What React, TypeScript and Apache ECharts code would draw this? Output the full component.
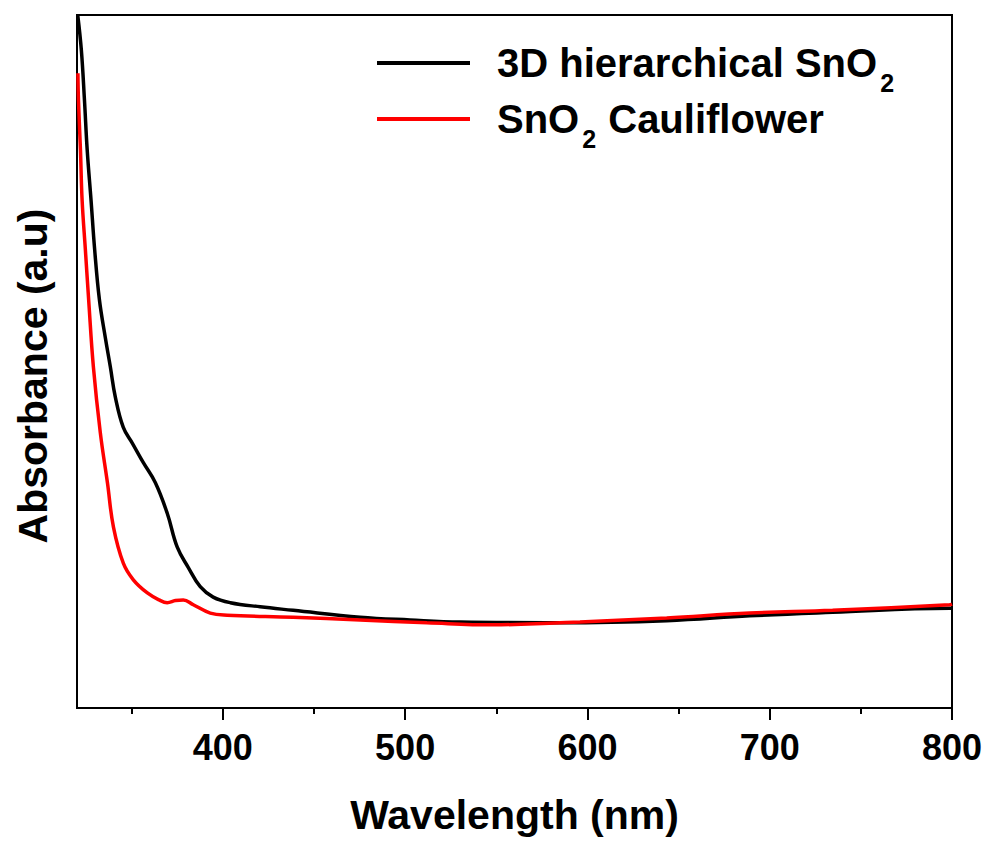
import React, { useEffect, useRef } from "react";
import * as echarts from "echarts";

// x-axis ticks (nm)
const majorTicks = [400, 500, 600, 700, 800];
const minorTicks = [350, 450, 550, 650, 750];

const seriesNames = ["3D hierarchical SnO2", "SnO2 Cauliflower"];
const legendLabels = ["{m|3D hierarchical SnO}{s|2}", "{m|SnO}{s|2}{m| Cauliflower}"];
const seriesColors = ["#000000", "#ff0000"];

// [wavelength nm, absorbance a.u.]
const hierarchicalSnO2: [number, number][] = [
  [320.4, 100], [322.4, 94.9], [324.1, 87.7], [325.6, 80.5], [327.7, 73.3],
  [329.7, 66.1], [332.3, 58.9], [335.5, 53.5], [338.3, 49.2], [341.0, 44.9],
  [345.4, 40.5], [350.4, 38.2], [356.4, 35.4], [363.0, 32.5], [369.5, 28.1],
  [375.0, 23.2], [381.0, 20.3], [387.6, 17.5], [394.7, 16.0], [404.1, 15.2],
  [420.5, 14.6], [438.6, 14.1], [475.3, 13.1], [502.7, 12.7], [530.1, 12.4],
  [584.9, 12.3], [643.5, 12.6], [689.0, 13.3], [734.5, 13.8], [798.6, 14.4],
  [800.0, 14.4],
];

const cauliflowerSnO2: [number, number][] = [
  [320.5, 91.6], [320.8, 87.7], [321.9, 80.5], [322.8, 73.3], [324.6, 66.1],
  [326.4, 58.9], [329.0, 49.2], [332.8, 39.7], [336.7, 32.5], [340.0, 26.1],
  [345.4, 20.9], [350.9, 18.5], [358.6, 16.6], [365.0, 15.6], [369.5, 15.2],
  [374.0, 15.5], [378.3, 15.6], [383.8, 14.9], [393.1, 13.7], [402.4, 13.4],
  [438.6, 13.1], [475.3, 12.7], [512.0, 12.3], [548.2, 12.0], [584.9, 12.3],
  [595.9, 12.4], [643.5, 13.0], [689.0, 13.7], [734.5, 14.1], [798.6, 14.9],
  [800.0, 15.0],
];

const FONT = "Arial, 'Liberation Sans', Helvetica, sans-serif";

export default function App() {
  const ref = useRef<HTMLDivElement>(null);
  useEffect(() => {
    if (!ref.current) return;
    const chart = echarts.init(ref.current, null, { renderer: "svg" });
    const P = 20;
    const L = 42;
    const option: any = {
      animation: false,
      backgroundColor: "#ffffff",
      grid: {
        left: 77,
        right: 39,
        top: 15,
        bottom: 136,
        show: true,
        borderColor: "#000",
        borderWidth: 2,
        backgroundColor: "transparent",
      },
      legend: {
        orient: "vertical",
        left: 377,
        top: 43,
        padding: 0,
        itemGap: -4,
        itemWidth: 93,
        itemHeight: 4,
        icon: "rect",
        data: seriesNames,
        formatter: (name: string) => legendLabels[seriesNames.indexOf(name)],
        textStyle: {
          padding: [P, 0, 0, 22],
          rich: {
            m: {
              fontSize: 40,
              fontWeight: "bold",
              fontFamily: FONT,
              color: "#000",
              lineHeight: L,
              padding: [0, 0, P, 0],
            },
            s: {
              fontSize: 25,
              fontWeight: "bold",
              fontFamily: FONT,
              color: "#000",
              lineHeight: L,
              padding: [P, 1, 0, 3],
            },
          },
        },
      },
      xAxis: [
        {
          type: "value",
          min: 320,
          max: 800,
          position: "bottom",
          name: "Wavelength (nm)",
          nameLocation: "middle",
          nameGap: 86,
          nameTextStyle: { fontSize: 41, fontWeight: "bold", fontFamily: FONT, color: "#000" },
          axisLine: { show: true, onZero: false, lineStyle: { color: "#000", width: 2 } },
          axisTick: {
            show: true,
            inside: false,
            length: 12,
            customValues: majorTicks,
            lineStyle: { color: "#000", width: 2 },
          },
          axisLabel: {
            show: true,
            customValues: majorTicks,
            margin: 21,
            fontSize: 36,
            fontWeight: "bold",
            fontFamily: FONT,
            color: "#000",
          },
          splitLine: { show: false },
        },
        {
          type: "value",
          min: 320,
          max: 800,
          position: "bottom",
          axisLine: { show: false, onZero: false },
          axisTick: {
            show: true,
            inside: false,
            length: 6,
            customValues: minorTicks,
            lineStyle: { color: "#000", width: 2 },
          },
          axisLabel: { show: false },
          splitLine: { show: false },
        },
      ],
      yAxis: {
        type: "value",
        min: 0,
        max: 100,
        axisLine: { show: true, lineStyle: { color: "#000", width: 2 } },
        axisTick: { show: false },
        axisLabel: { show: false },
        splitLine: { show: false },
      },
      graphic: [
        {
          type: "text",
          x: 33,
          y: 376,
          rotation: Math.PI / 2,
          style: {
            text: "Absorbance (a.u)",
            fontSize: 41,
            fontWeight: "bold",
            fontFamily: FONT,
            fill: "#000",
            align: "center",
            verticalAlign: "middle",
          },
        },
      ],
      series: [
        {
          name: seriesNames[0],
          type: "line",
          xAxisIndex: 0,
          data: hierarchicalSnO2,
          showSymbol: false,
          symbol: "none",
          smooth: 0.4,
          clip: true,
          color: seriesColors[0],
          lineStyle: { color: seriesColors[0], width: 3.5 },
          z: 2,
        },
        {
          name: seriesNames[1],
          type: "line",
          xAxisIndex: 0,
          data: cauliflowerSnO2,
          showSymbol: false,
          symbol: "none",
          smooth: 0.4,
          clip: true,
          color: seriesColors[1],
          lineStyle: { color: seriesColors[1], width: 3.5 },
          z: 3,
        },
      ],
    };
    chart.setOption(option);
    return () => chart.dispose();
  }, []);
  return (
    <div
      ref={ref}
      style={{ position: "fixed", left: 0, top: 0, width: 991, height: 844, background: "#fff" }}
    />
  );
}
